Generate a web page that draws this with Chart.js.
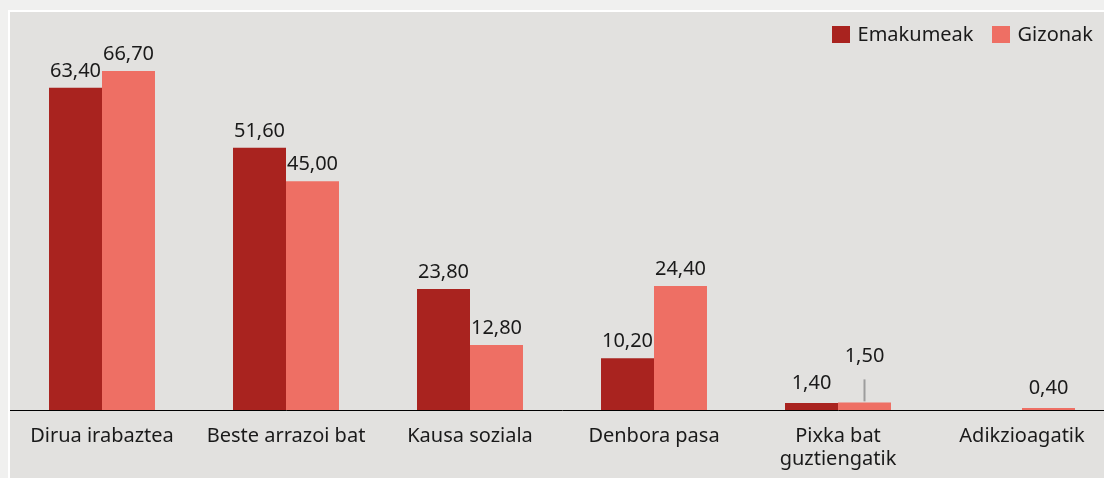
<!DOCTYPE html>
<html><head><meta charset="utf-8">
<script src="https://cdn.jsdelivr.net/npm/chart.js@4"></script>
<style>
html,body{margin:0;padding:0;background:#f0f0ef;width:1104px;height:478px;overflow:hidden;font-family:"Noto Sans",sans-serif;}
#panel{position:absolute;left:8px;top:10px;width:1094px;height:466px;border-left:2px solid #fff;border-top:2px solid #fff;background:#e2e1df;overflow:hidden;}
#wrap{position:absolute;left:0;top:0;width:1104px;height:466px;}
#legend{position:absolute;right:11px;top:22px;display:flex;align-items:center;font-size:20px;color:#1a1a1a;line-height:24px;}
#legend .item{display:flex;align-items:center;margin-left:18px;}
#legend .box{width:18px;height:17px;margin-right:8px;}
</style>
</head><body>
<div id="panel"><div id="wrap"><canvas id="c" width="1104" height="466"></canvas></div></div>
<div id="legend"></div>
<script>
const categories = ['Dirua irabaztea', 'Beste arrazoi bat', 'Kausa soziala', 'Denbora pasa', ['Pixka bat', 'guztiengatik'], 'Adikzioagatik'];
const seriesNames = ['Emakumeak', 'Gizonak'];
const emakumeak = [63.4, 51.6, 23.8, 10.2, 1.4, null];
const gizonak = [66.7, 45.0, 12.8, 24.4, 1.5, 0.4];
const colors = ['#a9231f', '#ee6f64'];

const FONT = '"Noto Sans", sans-serif';
const FONT_SIZE = 20;
const TEXT_COLOR = '#1a1a1a';
const LABEL_GAP = 11;
const SMALL_LABEL_GAP = 14;
const LEADERS = [{dataset: 1, index: 4, lineLength: 22, lift: 40}];

const fmt = v => v.toFixed(2).replace('.', ',');

const valueLabels = {
  id: 'valueLabels',
  afterDatasetsDraw(chart) {
    const ctx = chart.ctx;
    ctx.save();
    ctx.font = FONT_SIZE + 'px ' + FONT;
    ctx.fillStyle = TEXT_COLOR;
    ctx.textAlign = 'center';
    ctx.textBaseline = 'alphabetic';
    chart.data.datasets.forEach((ds, di) => {
      const meta = chart.getDatasetMeta(di);
      meta.data.forEach((bar, i) => {
        const v = ds.data[i];
        if (v == null) return;
        const lead = LEADERS.find(l => l.dataset === di && l.index === i);
        let y = bar.y - (v < 2 ? SMALL_LABEL_GAP : LABEL_GAP);
        if (lead) {
          ctx.save();
          ctx.strokeStyle = '#9d9d9d';
          ctx.lineWidth = 2;
          ctx.beginPath();
          ctx.moveTo(bar.x, bar.y - 1);
          ctx.lineTo(bar.x, bar.y - 1 - lead.lineLength);
          ctx.stroke();
          ctx.restore();
          y = bar.y - lead.lift;
        }
        ctx.fillText(fmt(v), bar.x, y);
      });
    });
    ctx.restore();
  }
};

const chart = new Chart(document.getElementById('c'), {
  type: 'bar',
  data: {
    labels: categories,
    datasets: [
      {label: seriesNames[0], data: emakumeak, backgroundColor: colors[0]},
      {label: seriesNames[1], data: gizonak, backgroundColor: colors[1]}
    ]
  },
  options: {
    responsive: false,
    animation: false,
    devicePixelRatio: 1,
    layout: {padding: {top: 0, left: 0, right: 0, bottom: 0}},
    datasets: {bar: {categoryPercentage: 0.576, barPercentage: 1, borderWidth: 0}},
    plugins: {legend: {display: false}, tooltip: {enabled: false}},
    scales: {
      x: {
        grid: {display: false, drawTicks: false},
        border: {display: true, color: '#000', width: 1},
        ticks: {color: TEXT_COLOR, font: {family: FONT, size: FONT_SIZE, lineHeight: 1.15}, padding: 15, maxRotation: 0, autoSkip: false},
        afterFit: s => { s.height = 68; }
      },
      y: {display: false, min: 0, max: 78.3}
    }
  },
  plugins: [valueLabels]
});

const legend = document.getElementById('legend');
chart.data.datasets.forEach(ds => {
  const item = document.createElement('div');
  item.className = 'item';
  const box = document.createElement('span');
  box.className = 'box';
  box.style.background = ds.backgroundColor;
  const txt = document.createElement('span');
  txt.textContent = ds.label;
  item.appendChild(box);
  item.appendChild(txt);
  legend.appendChild(item);
});
</script>
</body></html>
